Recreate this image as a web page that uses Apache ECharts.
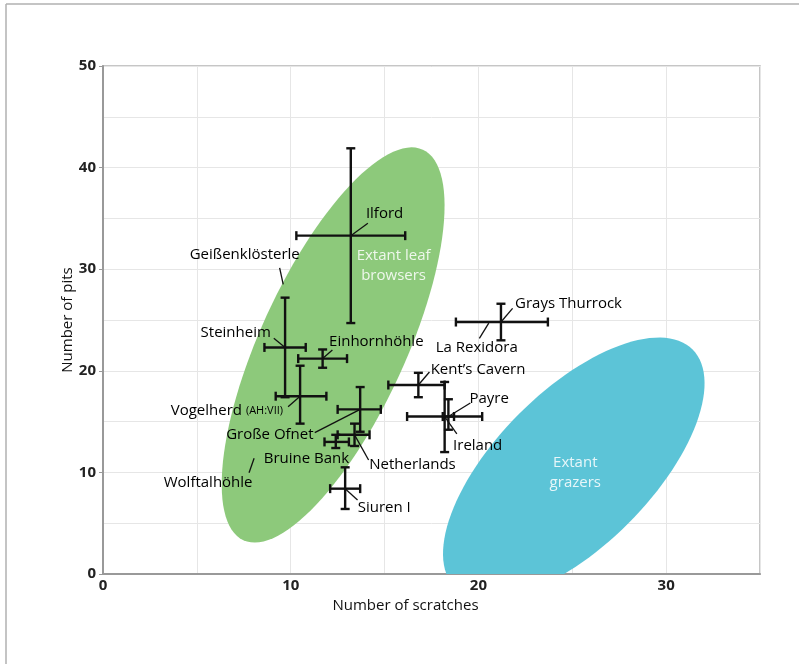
<!DOCTYPE html>
<html>
<head>
<meta charset="utf-8">
<title>Pits vs scratches</title>
<script src="https://cdn.jsdelivr.net/npm/echarts@6/dist/echarts.min.js"></script>
<style>
  html, body { margin: 0; padding: 0; background: #fff; }
  #chart { width: 799px; height: 664px; }
</style>
</head>
<body>
<div id="chart"></div>
<script>
// sites with error bars (mean, low, high for scratches and pits)
const siteNames = ['Ilford', 'Steinheim', 'Einhornhöhle', 'Vogelherd', 'Große Ofnet', 'Netherlands',
  'Bruine Bank', 'Siuren I', 'Kent’s Cavern', 'Ireland', 'Payre', 'Grays Thurrock',
  'Geißenklösterle', 'Wolftalhöhle', 'La Rexidora']
const scratchMean = [13.2, 9.7, 11.7, 10.5, 13.7, 13.4, 12.4, 12.9, 16.8, 18.2, 18.4, 21.2, 9.6, 8.05, 20.55]
const scratchLow  = [10.3, 8.6, 10.4, 9.2, 12.5, 12.5, 11.8, 12.1, 15.2, 16.2, 18.1, 18.8, 9.6, 8.05, 20.55]
const scratchHigh = [16.1, 10.8, 13.0, 11.9, 14.8, 14.2, 13.1, 13.7, 18.2, 20.2, 18.7, 23.7, 9.6, 8.05, 20.55]
const pitMean = [33.3, 22.3, 21.2, 17.5, 16.2, 13.7, 13.0, 8.4, 18.6, 15.5, 15.5, 24.8, 28.5, 11.4, 24.7]
const pitLow  = [24.7, 17.4, 20.3, 14.8, 14.0, 12.6, 12.4, 6.4, 17.4, 12.0, 14.2, 23.0, 28.5, 11.4, 24.7]
const pitHigh = [41.9, 27.2, 22.1, 20.5, 18.4, 14.8, 13.7, 10.5, 19.8, 18.9, 17.2, 26.6, 28.5, 11.4, 24.7]

// label text centres and leader-line starts, in data units
const labelX  = [15.0, 7.07, 14.56, 6.6, 8.89, 16.49, 10.84, 14.98, 19.98, 19.96, 20.57, 24.8, 7.55, 5.6, 19.91]
const labelY  = [35.5, 23.75, 22.86, 16.04, 13.75, 10.73, 11.39, 6.53, 20.08, 12.63, 17.22, 26.64, 31.4, 8.99, 22.27]
const leaderX = [14.11, 9.1, 12.22, 9.86, 11.28, 14.15, null, 13.56, 17.39, 18.85, 19.57, 21.82, 9.41, 7.78, 20.05]
const leaderY = [34.52, 23.2, 22.05, 16.47, 13.91, 11.22, null, 7.28, 19.88, 13.78, 16.83, 26.15, 30.12, 9.97, 23.2]

// ellipses: centre, semi-axis vectors (data units)
const ellipseNames = ['Extant leaf\nbrowsers', 'Extant\ngrazers']
const ellipseCenter = [[12.26, 22.54], [25.08, 10.38]]
const ellipseAxisA = [[4.78, 19.22], [6.33, 11.71]]
const ellipseAxisB = [[-3.52, 2.99], [-2.91, 5.39]]
const ellipseLabelPos = [[15.48, 30.3], [25.16, 9.94]]

const xTicks = [0, 10, 20, 30]
const yTicks = [0, 10, 20, 30, 40, 50]

const FONT = '"Open Sans", "Noto Sans", sans-serif'
const ellipseColors = ['#8dc97b', '#5cc4d7']

const chart = echarts.init(document.getElementById('chart'))

const barData = siteNames.map((n, i) => [scratchMean[i], pitMean[i], scratchLow[i], scratchHigh[i], pitLow[i], pitHigh[i]])
const labelData = siteNames.map((n, i) => ({ name: n, value: [labelX[i], labelY[i]] }))
const leaderData = siteNames
  .map((n, i) => [leaderX[i], leaderY[i], scratchMean[i], pitMean[i]])
  .filter(d => d[0] != null)
const ellipseData = ellipseNames.map((n, i) => ({
  name: n,
  value: [ellipseCenter[i][0], ellipseCenter[i][1], ellipseAxisA[i][0], ellipseAxisA[i][1],
    ellipseAxisB[i][0], ellipseAxisB[i][1], ellipseLabelPos[i][0], ellipseLabelPos[i][1]]
}))

function renderEllipse(params, api) {
  const cx = api.value(0), cy = api.value(1)
  const ax = api.value(2), ay = api.value(3), bx = api.value(4), by = api.value(5)
  const pts = []
  for (let k = 0; k < 120; k++) {
    const t = (k / 120) * Math.PI * 2
    pts.push(api.coord([cx + Math.cos(t) * ax + Math.sin(t) * bx, cy + Math.cos(t) * ay + Math.sin(t) * by]))
  }
  return {
    type: 'polygon',
    shape: { points: pts },
    style: { fill: ellipseColors[params.dataIndex] }
  }
}

function renderEllipseLabel(params, api) {
  const p = api.coord([api.value(6), api.value(7)])
  return {
    type: 'text',
    x: p[0], y: p[1],
    style: {
      text: ellipseNames[params.dataIndex],
      fill: 'rgba(255,255,255,0.85)',
      font: '15px ' + FONT,
      lineHeight: 20,
      align: 'center',
      verticalAlign: 'middle'
    }
  }
}

function renderErrorBar(params, api) {
  const xm = api.value(0), ym = api.value(1)
  const xl = api.value(2), xh = api.value(3), yl = api.value(4), yh = api.value(5)
  const cap = 4.5
  const style = { stroke: '#111', lineWidth: 2.4 }
  const children = []
  if (xh > xl) {
    const a = api.coord([xl, ym]), b = api.coord([xh, ym])
    children.push({ type: 'line', shape: { x1: a[0], y1: a[1], x2: b[0], y2: b[1] }, style })
    children.push({ type: 'line', shape: { x1: a[0], y1: a[1] - cap, x2: a[0], y2: a[1] + cap }, style })
    children.push({ type: 'line', shape: { x1: b[0], y1: b[1] - cap, x2: b[0], y2: b[1] + cap }, style })
  }
  if (yh > yl) {
    const a = api.coord([xm, yl]), b = api.coord([xm, yh])
    children.push({ type: 'line', shape: { x1: a[0], y1: a[1], x2: b[0], y2: b[1] }, style })
    children.push({ type: 'line', shape: { x1: a[0] - cap, y1: a[1], x2: a[0] + cap, y2: a[1] }, style })
    children.push({ type: 'line', shape: { x1: b[0] - cap, y1: b[1], x2: b[0] + cap, y2: b[1] }, style })
  }
  return { type: 'group', children }
}

function renderLeader(params, api) {
  const a = api.coord([api.value(0), api.value(1)])
  const b = api.coord([api.value(2), api.value(3)])
  return {
    type: 'line',
    shape: { x1: a[0], y1: a[1], x2: b[0], y2: b[1] },
    style: { stroke: '#111', lineWidth: 1.3 }
  }
}

function renderLabel(params, api) {
  const p = api.coord([api.value(0), api.value(1)])
  const name = siteNames[params.dataIndex]
  const isVogel = name === 'Vogelherd'
  return {
    type: 'text',
    x: p[0], y: p[1],
    style: {
      text: isVogel ? '{a|Vogelherd }{b|(AH:VII)}' : name,
      rich: isVogel ? {
        a: { font: '15px ' + FONT, fill: '#000' },
        b: { font: '11px ' + FONT, fill: '#000' }
      } : undefined,
      fill: '#000',
      font: '15px ' + FONT,
      align: 'center',
      verticalAlign: 'middle'
    }
  }
}

const option = {
  backgroundColor: '#fff',
  animation: false,
  graphic: [
    { type: 'line', shape: { x1: 6, y1: 4, x2: 799, y2: 4 }, style: { stroke: '#b0b0b0', lineWidth: 1.5 } },
    { type: 'line', shape: { x1: 6, y1: 4, x2: 6, y2: 664 }, style: { stroke: '#b0b0b0', lineWidth: 1.5 } }
  ],
  grid: {
    left: 103, top: 66, width: 657, height: 508,
    show: true, borderColor: '#b4b4b4', borderWidth: 1.5, backgroundColor: '#fff'
  },
  xAxis: {
    type: 'value', min: 0, max: 35, interval: 5,
    name: 'Number of scratches', nameLocation: 'middle', nameGap: 24,
    nameTextStyle: { fontFamily: FONT, fontSize: 15, color: '#111', padding: [0, 52, 0, 0] },
    axisLine: { lineStyle: { color: '#999', width: 2 } },
    axisTick: { show: false },
    axisLabel: {
      margin: 4, fontFamily: FONT, fontSize: 15, fontWeight: 'bold', color: '#222',
      formatter: v => (xTicks.indexOf(v) >= 0 ? String(v) : '')
    },
    splitLine: { lineStyle: { color: '#e6e6e6', width: 1 } }
  },
  yAxis: {
    type: 'value', min: 0, max: 50, interval: 10,
    name: 'Number of pits', nameLocation: 'middle', nameGap: 28, nameMoveOverlap: false,
    nameTextStyle: { fontFamily: FONT, fontSize: 15, color: '#111' },
    axisLine: { show: true, lineStyle: { color: '#999', width: 2 } },
    axisTick: { show: true, length: 4, lineStyle: { color: '#999' } },
    axisLabel: {
      margin: 7, fontFamily: FONT, fontSize: 15, fontWeight: 'bold', color: '#222',
      formatter: v => (yTicks.indexOf(v) >= 0 ? String(v) : '')
    },
    splitLine: { lineStyle: { color: '#e6e6e6', width: 1 } },
    minorTick: { show: false, splitNumber: 2 },
    minorSplitLine: { show: true, lineStyle: { color: '#e6e6e6', width: 1 } }
  },
  series: [
    { type: 'custom', name: 'ellipses', renderItem: renderEllipse, data: ellipseData, clip: true, silent: true, z: 1 },
    { type: 'custom', name: 'ellipseLabels', renderItem: renderEllipseLabel, data: ellipseData, silent: true, z: 2 },
    { type: 'custom', name: 'errorBars', renderItem: renderErrorBar, data: barData, clip: true, z: 3 },
    { type: 'custom', name: 'leaders', renderItem: renderLeader, data: leaderData, silent: true, z: 4 },
    { type: 'custom', name: 'labels', renderItem: renderLabel, data: labelData, silent: true, z: 5 }
  ]
}

chart.setOption(option)
</script>
</body>
</html>
